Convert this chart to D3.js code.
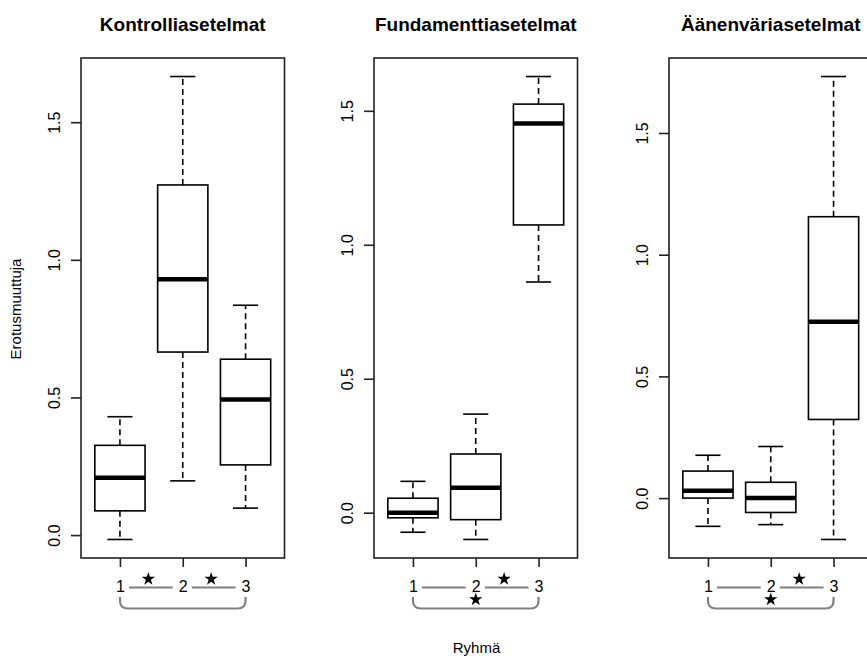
<!DOCTYPE html>
<html>
<head>
<meta charset="utf-8">
<script src="https://cdn.jsdelivr.net/npm/d3@7"></script>
<style>
  html, body { margin: 0; padding: 0; background: #fff; }
  svg { display: block; font-family: "Liberation Sans", Arial, sans-serif; }
</style>
</head>
<body>
<svg id="chart" width="867" height="662"></svg>
<script>
// ---- data ----
const categories = ["1", "2", "3"];
const panelTitles = ["Kontrolliasetelmat", "Fundamenttiasetelmat", "Äänenväriasetelmat"];
const yTickValues = [0, 0.5, 1.0, 1.5];
const yLabel = "Erotusmuuttuja";
const xLabel = "Ryhmä";

// five-number summaries per group: [lower whisker, Q1, median, Q3, upper whisker]
const kontrolliStats = [
  [-0.016, 0.088, 0.208, 0.326, 0.430],
  [0.197, 0.665, 0.929, 1.272, 1.666],
  [0.098, 0.255, 0.493, 0.639, 0.835]
];
const fundamenttiStats = [
  [-0.073, -0.019, 0.000, 0.054, 0.117],
  [-0.100, -0.026, 0.093, 0.219, 0.368],
  [0.861, 1.074, 1.453, 1.525, 1.628]
];
const aanenvariStats = [
  [-0.116, 0.000, 0.030, 0.111, 0.176],
  [-0.109, -0.059, 0.000, 0.065, 0.212],
  [-0.170, 0.323, 0.725, 1.156, 1.732]
];
// significance markers per panel
const sig12 = [true, false, false];
const sig23 = [true, true, true];
const sig13 = [false, true, true];

const allStats = [kontrolliStats, fundamenttiStats, aanenvariStats];

// ---- layout ----
const panelLeft = [81, 374, 669];
const panelWidth = 203.5;
const plotTop = 58, plotBottom = 558;

const svg = d3.select("#chart");

allStats.forEach((stats, p) => {
  const left = panelLeft[p];
  const g = svg.append("g");

  const x = d3.scaleLinear().domain([0.38, 3.62]).range([left, left + panelWidth]);
  const lo = d3.min(stats, d => d[0]), hi = d3.max(stats, d => d[4]);
  const pad = (hi - lo) * 0.04;
  const y = d3.scaleLinear().domain([lo - pad, hi + pad]).range([plotBottom, plotTop]);

  // title
  g.append("text")
    .attr("x", left + panelWidth / 2).attr("y", 31)
    .attr("text-anchor", "middle")
    .attr("font-size", 19).attr("font-weight", "bold")
    .text(panelTitles[p]);

  // boxes
  const bw = x(1.4) - x(1);   // half box width
  const sw = x(1.2) - x(1);   // half staple width
  const groups = g.selectAll(".grp").data(stats).join("g");
  groups.each(function (d, i) {
    const gg = d3.select(this);
    const cx = x(i + 1);
    gg.append("line").attr("x1", cx).attr("x2", cx).attr("y1", y(d[3])).attr("y2", y(d[4]))
      .attr("stroke", "#000").attr("stroke-width", 1.6).attr("stroke-dasharray", "6,4");
    gg.append("line").attr("x1", cx).attr("x2", cx).attr("y1", y(d[1])).attr("y2", y(d[0]))
      .attr("stroke", "#000").attr("stroke-width", 1.6).attr("stroke-dasharray", "6,4");
    [d[0], d[4]].forEach(v => {
      gg.append("line").attr("x1", cx - sw).attr("x2", cx + sw).attr("y1", y(v)).attr("y2", y(v))
        .attr("stroke", "#000").attr("stroke-width", 1.6);
    });
    gg.append("rect").attr("x", cx - bw).attr("width", 2 * bw)
      .attr("y", y(d[3])).attr("height", y(d[1]) - y(d[3]))
      .attr("fill", "#fff").attr("stroke", "#000").attr("stroke-width", 1.6);
    gg.append("line").attr("x1", cx - bw).attr("x2", cx + bw).attr("y1", y(d[2])).attr("y2", y(d[2]))
      .attr("stroke", "#000").attr("stroke-width", 4.5);
  });

  // frame
  g.append("rect").attr("x", left).attr("y", plotTop)
    .attr("width", panelWidth).attr("height", plotBottom - plotTop)
    .attr("fill", "none").attr("stroke", "#222").attr("stroke-width", 1.6);

  // y axis
  const ya = g.append("g").attr("transform", `translate(${left},0)`)
    .call(d3.axisLeft(y).tickValues(yTickValues).tickFormat(d3.format(".1f")).tickSize(10).tickSizeOuter(0));
  ya.select(".domain").remove();
  ya.selectAll("line").attr("stroke", "#222").attr("stroke-width", 1.6);
  ya.selectAll("text")
    .attr("x", null).attr("y", null).attr("dy", null)
    .attr("text-anchor", "middle")
    .attr("transform", "translate(-21.5,0) rotate(-90)")
    .attr("font-size", 16).attr("fill", "#000").attr("font-family", null);

  // x axis
  const xa = g.append("g").attr("transform", `translate(0,${plotBottom})`)
    .call(d3.axisBottom(x).tickValues([1, 2, 3]).tickFormat((d, i) => categories[i]).tickSize(9).tickPadding(14).tickSizeOuter(0));
  xa.select(".domain").remove();
  xa.selectAll("line").attr("stroke", "#222").attr("stroke-width", 1.6);
  xa.selectAll("text").attr("font-size", 16).attr("fill", "#000").attr("font-family", null);

  // connecting lines between group labels
  const lineY = 587.5;
  [[1, 2], [2, 3]].forEach(([a, b]) => {
    g.append("line").attr("x1", x(a) + 9).attr("x2", x(b) - 10).attr("y1", lineY).attr("y2", lineY)
      .attr("stroke", "#808080").attr("stroke-width", 2.2);
  });

  // bracket 1-3
  const bx1 = x(1), bx3 = x(3), bt = 597, bb = 608.5, r = 8;
  g.append("path")
    .attr("d", `M${bx1},${bt} L${bx1},${bb - r} Q${bx1},${bb} ${bx1 + r},${bb} L${bx3 - r},${bb} Q${bx3},${bb} ${bx3},${bb - r} L${bx3},${bt}`)
    .attr("fill", "none").attr("stroke", "#808080").attr("stroke-width", 2.2);

  // stars
  const star = d3.symbol().type(d3.symbolStar).size(55);
  const stars = [];
  if (sig12[p]) stars.push([(x(1) + x(2)) / 2 - 3, 579]);
  if (sig23[p]) stars.push([(x(2) + x(3)) / 2 - 3, 579]);
  if (sig13[p]) stars.push([x(2), 599.5]);
  stars.forEach(([sx, sy]) => {
    g.append("path").attr("d", star()).attr("transform", `translate(${sx},${sy})`).attr("fill", "#000");
  });
});

// axis titles
svg.append("text")
  .attr("transform", "translate(20.5,309) rotate(-90)")
  .attr("text-anchor", "middle").attr("font-size", 15)
  .text(yLabel);
svg.append("text")
  .attr("x", 476.5).attr("y", 653)
  .attr("text-anchor", "middle").attr("font-size", 15)
  .text(xLabel);
</script>
</body>
</html>
